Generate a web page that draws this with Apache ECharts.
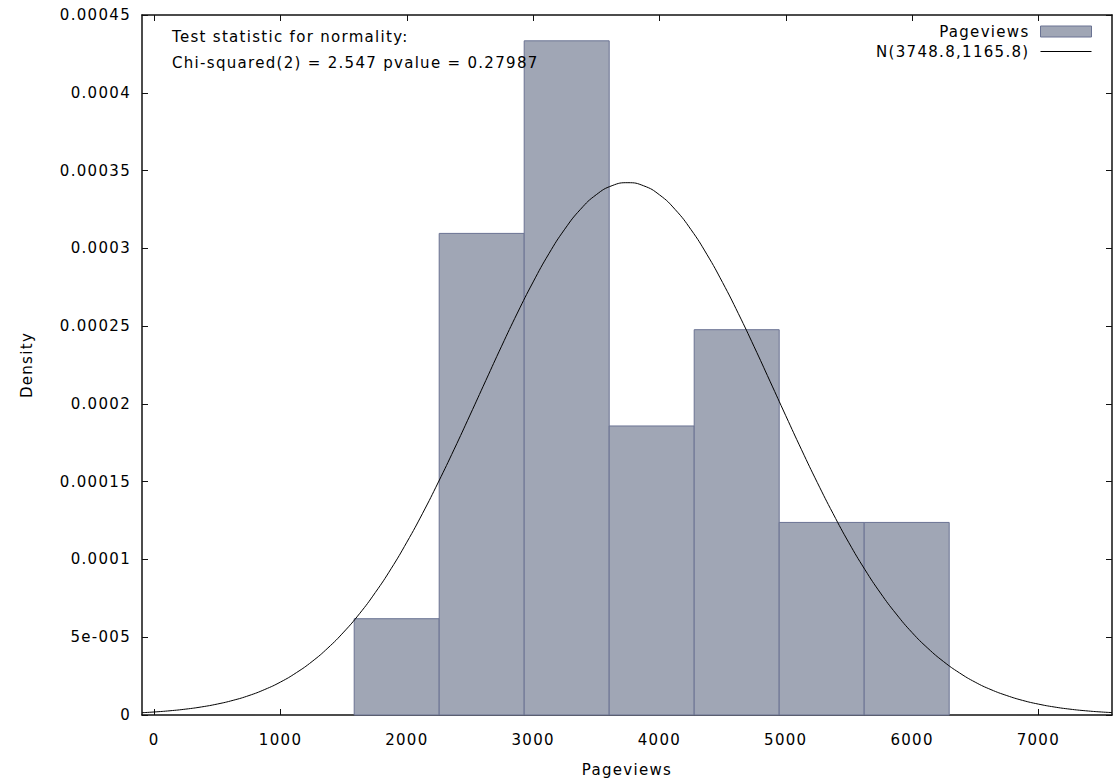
<!DOCTYPE html>
<html>
<head>
<meta charset="utf-8">
<script src="https://cdn.jsdelivr.net/npm/echarts@6/dist/echarts.min.js"></script>
<style>
  html, body { margin: 0; padding: 0; background: #fff; }
  #chart { width: 1115px; height: 780px; }
  /* the original plot font is wider than DejaVu, widen it a bit */
  #chart text { letter-spacing: 1.3px; }
</style>
</head>
<body>
<div id="chart"></div>
<script>
// histogram bins (Pageviews) and density per bin
const binEdges = [1583, 2256, 2929, 3602, 4275, 4948, 5621, 6294];
const densities = [0.0000619, 0.0003096, 0.0004334, 0.0001858, 0.0002477, 0.0001238, 0.0001238];

// fitted normal curve
const curveX = [-97, 0, 125, 250, 375, 500, 625, 750, 875, 1000, 1125, 1250, 1375, 1500, 1625, 1750, 1875,
  2000, 2125, 2250, 2375, 2500, 2625, 2750, 2875, 3000, 3125, 3250, 3375, 3500, 3625, 3750, 3875,
  4000, 4125, 4250, 4375, 4500, 4625, 4750, 4875, 5000, 5125, 5250, 5375, 5500, 5625, 5750, 5875,
  6000, 6125, 6250, 6375, 6500, 6625, 6750, 6875, 7000, 7125, 7250, 7375, 7500, 7583];
const curveY = [0.00000148, 0.00000194, 0.00000273, 0.00000379, 0.0000052, 0.00000705, 0.00000945, 0.0000125,
  0.0000164, 0.0000212, 0.0000272, 0.0000344, 0.0000431, 0.0000533, 0.0000651, 0.0000787, 0.0000940,
  0.0001111, 0.0001297, 0.0001498, 0.0001709, 0.0001928, 0.0002150, 0.0002371, 0.0002584, 0.0002784,
  0.0002966, 0.0003123, 0.0003251, 0.0003345, 0.0003403, 0.0003422, 0.0003402, 0.0003344, 0.0003249,
  0.0003120, 0.0002962, 0.0002780, 0.0002580, 0.0002367, 0.0002146, 0.0001924, 0.0001705, 0.0001494,
  0.0001294, 0.0001107, 0.0000937, 0.0000784, 0.0000649, 0.0000530, 0.0000429, 0.0000343, 0.0000271,
  0.0000211, 0.0000163, 0.0000125, 0.00000939, 0.00000701, 0.00000516, 0.00000376, 0.00000271,
  0.00000193, 0.00000155];

const xTicks = [0, 1000, 2000, 3000, 4000, 5000, 6000, 7000];
const yTickLabels = ['0', '5e-005', '0.0001', '0.00015', '0.0002', '0.00025', '0.0003', '0.00035', '0.0004', '0.00045'];

const histName = 'Pageviews';
const curveName = 'N(3748.8,1165.8)';
const noteLines = ['Test statistic for normality:', 'Chi-squared(2) = 2.547 pvalue = 0.27987'];

const FONT = 'DejaVu Sans';
const FS = 15;
const barFill = '#a0a6b5';
const barEdge = '#6a7393';
const axisColor = '#111';

let chart = echarts.init(document.getElementById('chart'), null, { renderer: 'svg' });

let histData = densities.map((d, i) => [binEdges[i], binEdges[i + 1], d]);
let curveData = curveX.map((x, i) => [x, curveY[i]]);

const xMin = -97, xMax = 7583;

const option = {
  animation: false,
  textStyle: { fontFamily: FONT },
  grid: { left: 142, right: 3, top: 15, bottom: 65, outerBoundsMode: 'none' },
  legend: {
    orient: 'vertical',
    right: 23,
    top: 24,
    padding: 0,
    align: 'right',
    itemWidth: 51,
    itemHeight: 11,
    itemGap: 5,
    selectedMode: false,
    textStyle: { fontFamily: FONT, fontSize: FS, color: '#000', padding: [0, 6, 0, 0] },
    data: [
      { name: histName, icon: 'rect', itemStyle: { color: barFill, borderColor: barEdge, borderWidth: 1 } },
      { name: curveName, itemStyle: { opacity: 0 }, lineStyle: { color: '#000', width: 1 } }
    ]
  },
  xAxis: [
    {
      type: 'value',
      min: xMin,
      max: xMax,
      name: 'Pageviews',
      nameLocation: 'middle',
      nameGap: 47,
      nameTextStyle: { fontFamily: FONT, fontSize: FS, color: '#000' },
      splitLine: { show: false },
      axisLine: { show: true, onZero: false, lineStyle: { color: axisColor, width: 1.5 } },
      axisTick: { inside: true, length: 6, customValues: xTicks, lineStyle: { color: axisColor } },
      axisLabel: {
        customValues: xTicks, margin: 17, fontFamily: FONT, fontSize: FS, color: '#000',
        formatter: function (v) { return String(v); }
      }
    },
    {
      type: 'value',
      position: 'top',
      min: xMin,
      max: xMax,
      splitLine: { show: false },
      axisLine: { show: true, onZero: false, lineStyle: { color: axisColor, width: 1.5 } },
      axisTick: { inside: true, length: 6, customValues: xTicks, lineStyle: { color: axisColor } },
      axisLabel: { show: false }
    }
  ],
  yAxis: [
    {
      type: 'value',
      min: 0,
      max: 0.00045,
      interval: 0.00005,
      name: 'Density',
      nameLocation: 'middle',
      nameGap: 108,
      nameTextStyle: { fontFamily: FONT, fontSize: FS, color: '#000' },
      splitLine: { show: false },
      axisLine: { show: true, onZero: false, lineStyle: { color: axisColor, width: 1.5 } },
      axisTick: { inside: true, length: 6, lineStyle: { color: axisColor } },
      axisLabel: {
        margin: 11,
        fontFamily: FONT,
        fontSize: FS,
        color: '#000',
        formatter: function (v) {
          return yTickLabels[Math.round(v / 0.00005)];
        }
      }
    },
    {
      type: 'value',
      position: 'right',
      min: 0,
      max: 0.00045,
      interval: 0.00005,
      splitLine: { show: false },
      axisLine: { show: true, onZero: false, lineStyle: { color: axisColor, width: 1.5 } },
      axisTick: { inside: true, length: 6, lineStyle: { color: axisColor } },
      axisLabel: { show: false }
    }
  ],
  graphic: [
    { type: 'text', z: 100, left: 172, top: 29, style: { text: noteLines[0], font: FS + 'px "DejaVu Sans"', fill: '#000' } },
    { type: 'text', z: 100, left: 172, top: 55, style: { text: noteLines[1], font: FS + 'px "DejaVu Sans"', fill: '#000' } }
  ],
  series: [
    {
      name: histName,
      type: 'custom',
      xAxisIndex: 0,
      yAxisIndex: 0,
      itemStyle: { color: barFill, borderColor: barEdge },
      encode: { x: [0, 1], y: 2 },
      data: histData,
      renderItem: function (params, api) {
        let p0 = api.coord([api.value(0), api.value(2)]);
        let p1 = api.coord([api.value(1), 0]);
        return {
          type: 'rect',
          shape: { x: p0[0], y: p0[1], width: p1[0] - p0[0], height: p1[1] - p0[1] },
          style: { fill: barFill, stroke: barEdge, lineWidth: 1 }
        };
      }
    },
    {
      name: curveName,
      type: 'line',
      xAxisIndex: 0,
      yAxisIndex: 0,
      data: curveData,
      smooth: true,
      symbol: 'none',
      z: 5,
      lineStyle: { color: '#000', width: 1 },
      itemStyle: { color: '#000' }
    }
  ]
};

chart.setOption(option);
</script>
</body>
</html>
